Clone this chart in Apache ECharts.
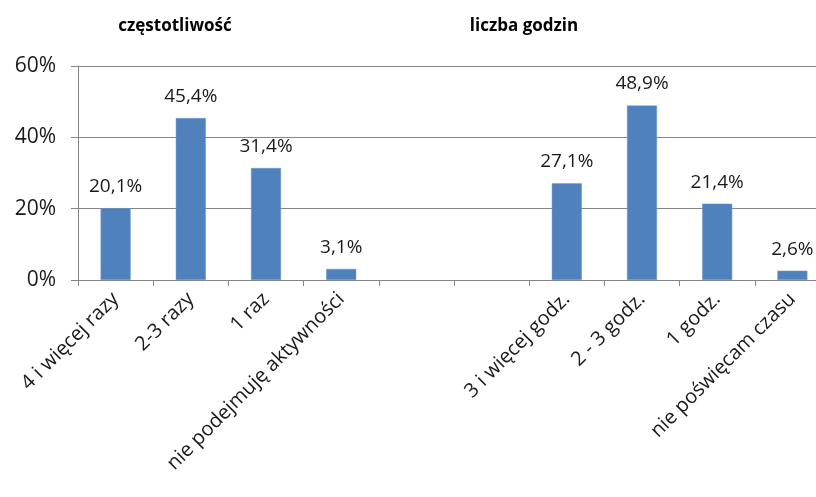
<!DOCTYPE html>
<html><head><meta charset="utf-8">
<script src="https://cdn.jsdelivr.net/npm/echarts@6/dist/echarts.min.js"></script>
<style>html,body{margin:0;padding:0;background:#fff;overflow:hidden}#c{width:832px;height:497px}</style>
</head><body><div id="c"></div>
<script>
const categories = ["4 i więcej razy","2-3 razy","1 raz","nie podejmuję aktywności","","","3 i więcej godz.","2 - 3 godz.","1 godz.","nie poświęcam czasu"];
const values = [20.1, 45.4, 31.4, 3.1, null, null, 27.1, 48.9, 21.4, 2.6];
const titles = ["częstotliwość", "liczba godzin"];
const yTicks = [0, 20, 40, 60];

const font = "Open Sans";
const chart = echarts.init(document.getElementById('c'), null, {renderer:'canvas'});
chart.setOption({
  animation:false,
  backgroundColor:'#fff',
  title:[
    {text:titles[0], left:170, top:13, textAlign:'center', textStyle:{fontFamily:font,fontSize:17,fontWeight:'bold',color:'#000'}},
    {text:titles[1], left:519, top:13, textAlign:'center', textStyle:{fontFamily:font,fontSize:17,fontWeight:'bold',color:'#000'}}
  ],
  grid:{left:78, right:2, top:66, bottom:217, containLabel:false},
  xAxis:{type:'category', data:categories,
    axisLine:{lineStyle:{color:'#868686',width:1}},
    axisTick:{show:true,alignWithLabel:false,length:6,lineStyle:{color:'#868686'}},
    axisLabel:{rotate:45,interval:0,margin:16,fontFamily:font,fontSize:20,color:'#1a1a1a'}
  },
  yAxis:{type:'value', min:yTicks[0], max:yTicks[yTicks.length-1], interval:20,
    axisLine:{show:true,lineStyle:{color:'#868686'}},
    axisTick:{show:true,length:7,lineStyle:{color:'#868686'}},
    splitLine:{lineStyle:{color:'#868686',width:1}},
    axisLabel:{formatter:v=>v+'%',fontFamily:font,fontSize:21,color:'#1a1a1a',margin:22}
  },
  series:[{type:'bar', data:values, barWidth:30,
    itemStyle:{color:'#4f81bd', borderColor:'#6a98cf', borderWidth:0.5},
    label:{show:true, position:'top', distance:12, fontFamily:font, fontSize:19, color:'#1a1a1a',
      formatter:p=>p.value==null?'':String(p.value.toFixed(1)).replace('.',',')+'%'}
  }]
});
</script></body></html>
